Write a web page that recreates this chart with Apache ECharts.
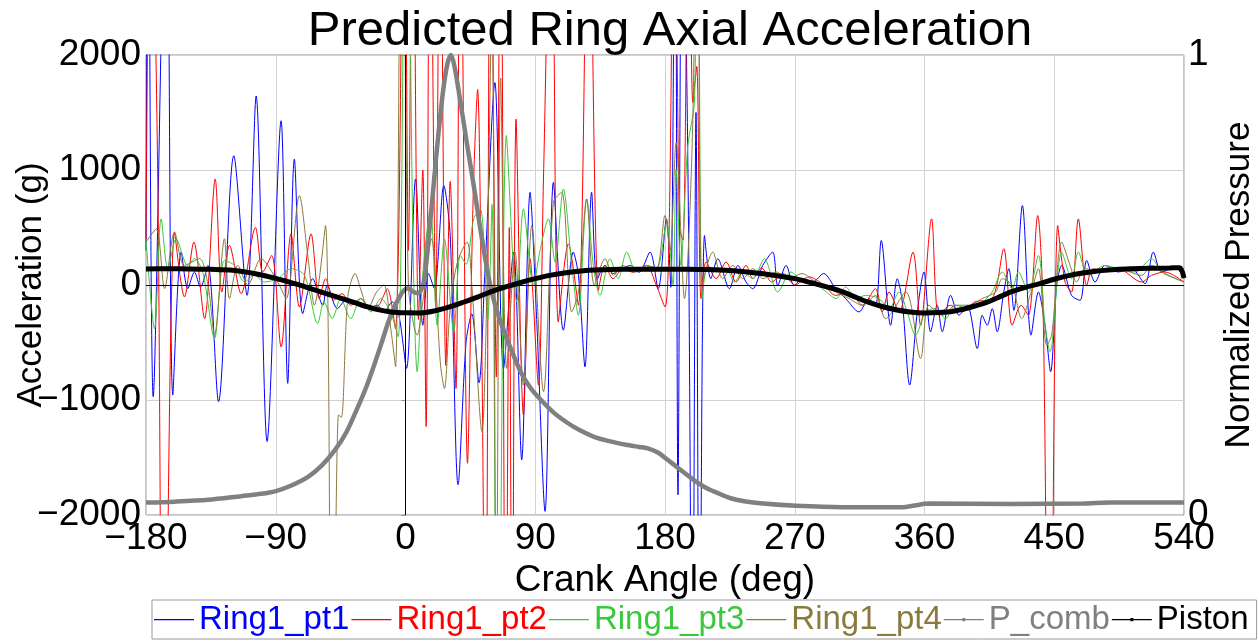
<!DOCTYPE html>
<html>
<head>
<meta charset="utf-8">
<script src="https://cdn.jsdelivr.net/npm/echarts@6/dist/echarts.min.js"></script>
<style>
html,body{margin:0;padding:0;background:#fff;}
#chart{width:1259px;height:641px;}
</style>
</head>
<body>
<div id="chart"></div>
<script>
// ---- data (crank angle deg, value) ----
const xTicks = [-180, -90, 0, 90, 180, 270, 360, 450, 540];
const yTicks = [-2000, -1000, 0, 1000, 2000];
const seriesNames = ['Ring1_pt1', 'Ring1_pt2', 'Ring1_pt3', 'Ring1_pt4', 'P_comb', 'Piston'];

const ring1pt1 = [[-180,300],[-178.5,4000],[-175,-971],[-165.8,4000],[-161.4,-957],[-155.6,286],[-151,-32],[-146.4,113],[-142.2,-20],[-137.1,170],[-129.7,-1014],[-119.1,1124],[-109.9,-90],[-103.6,1644],[-96,-1361],[-86.3,1428],[-81.7,-855],[-77.1,1095],[-71.3,-249],[-64.4,55],[-57.4,-176],[-54.3,-3],[-47.3,-205],[-40.4,-118],[-33.5,-176],[-26.6,-205],[-19.6,-176],[-15,-234],[-9.2,-147],[-4.6,-263],[0.7,-725],[7,922],[12,-350],[16,100],[20,-30],[26.6,864],[31,430],[36.5,-1737],[42,-500],[46,-250],[51,-850],[55,100],[62,1760],[68,-725],[75,286],[80.6,-1520],[86.4,806],[91,-300],[96.8,-1968],[102.6,893],[109.5,-393],[116.4,286],[120,80],[124.5,-711],[129.1,806],[133,50],[138.4,170],[144,100],[150,140],[156,170],[162,110],[169.6,286],[175.3,-32],[181,575],[184,-20],[187,4000],[189,-1824],[192,4000],[196,900],[199,-4000],[201.5,1500],[204,-4000],[207.4,430],[211.8,55],[216.6,228],[224.7,-32],[230.5,170],[236.2,26],[240.9,-32],[247.8,170],[254.7,286],[258.2,-3],[264,170],[269.7,-3],[275.5,55],[282.4,26],[290,100],[298.4,-32],[305.3,-118],[314.6,-234],[321.5,-118],[326.1,-176],[330,387],[336.5,-350],[341.1,55],[344.6,-147],[349.7,-870],[355,-234],[359.6,113],[364.2,-407],[368.8,-176],[372.3,-407],[378.1,-90],[383.9,-263],[389.6,-176],[396.6,-552],[400,-263],[403.5,-350],[407,-205],[410.4,-407],[415,-61],[418.5,142],[422,-220],[427.9,691],[433.9,-436],[439,-61],[443.6,-350],[447.5,-754],[451.7,0],[455.2,170],[462,-90],[467.9,-133],[472.5,214],[478.3,26],[485.2,170],[494.4,113],[503.6,142],[512.9,12],[518.7,286],[524.5,113],[533.7,156],[540,55]];

const ring1pt2 = [[-180,400],[-176.8,4000],[-171.8,893],[-167.8,-5000],[-160.2,460],[-153.3,-104],[-146.8,373],[-139.4,-292],[-132,922],[-127.4,-61],[-122.1,344],[-114,-75],[-104.1,500],[-99,113],[-92.8,257],[-86.3,-538],[-79.4,445],[-73.6,-191],[-65.5,445],[-59.8,-118],[-55.4,55],[-49.7,-133],[-44,-75],[-38,-176],[-31,-118],[-24.3,-205],[-18.5,-176],[-12.7,-32],[-7,-379],[-1,4000],[2,300],[5,4000],[9,-300],[12,1000],[14.3,-1230],[17,4000],[21,-200],[24,4000],[28,-700],[31,900],[35,-900],[38,4000],[43,-1550],[47,800],[50,1700],[53,-600],[55.5,-4000],[59,4000],[63,-800],[66,4000],[69.5,-4000],[72,500],[74,-4000],[76.7,1442],[81.8,-1130],[86.4,228],[92.2,-870],[95.7,922],[101.4,4000],[106,-321],[113,358],[119.9,-176],[127,4000],[133.8,-46],[138.4,170],[144,55],[151,142],[158,110],[167,170],[174,-3],[180,-191],[183,575],[186.5,4000],[190,500],[192.5,390],[196.5,4000],[199.3,1587],[202,1900],[205,-118],[208.5,200],[215.5,55],[222.4,200],[229.3,26],[236.2,170],[241,55],[247,150],[254,26],[262,100],[270,0],[280,70],[290,0],[298.4,-90],[307.6,-61],[317,-176],[326,-32],[330.6,-234],[335.4,-61],[342.3,-234],[352,286],[357.3,-350],[364.9,575],[370,-263],[378,-176],[386,-234],[395,-147],[407,-118],[415,315],[420.8,-350],[427,-176],[432,-263],[438.5,604],[442.4,-292],[446.8,-5000],[452.4,517],[457.5,26],[462,-61],[466.7,575],[472.5,-3],[477,142],[485.2,113],[494.4,142],[510.6,26],[517.5,84],[526.7,113],[540,26]];

const ring1pt3 = [[-180,400],[-174.1,-380],[-169.5,575],[-164.8,140],[-159.1,400],[-151,170],[-146.4,230],[-140.6,110],[-132.5,-465],[-125.6,214],[-118.6,170],[-111.7,26],[-104.8,85],[-97.9,26],[-88.6,55],[-79.4,142],[-70.1,85],[-60.9,-335],[-56.6,-147],[-50.8,-292],[-45,-118],[-38,-292],[-31,-118],[-24,-234],[-17,-118],[-10.5,-234],[-5,-450],[0.5,5000],[5,500],[8.1,-754],[12,100],[17.3,662],[22,-350],[27,400],[33.5,-407],[38,257],[42,180],[47.3,575],[52,660],[57,-300],[60,700],[64,-5000],[70,1300],[77.2,-147],[81.8,662],[88.7,0],[93.3,300],[99.1,575],[103.7,200],[109.5,835],[115.3,170],[119.9,-263],[125.7,748],[130.3,170],[134.9,-90],[141.8,228],[147.6,55],[153.4,286],[160.3,113],[167.2,170],[174.2,142],[181.1,546],[185.5,0],[187.7,1008],[191,170],[195.8,1210],[200.4,1587],[202.7,4000],[205.8,-118],[209.7,170],[215.5,113],[222.4,142],[228.2,26],[234,113],[240.9,55],[248.9,228],[258.2,-61],[267.4,113],[275.5,26],[285,0],[292,-61],[298.6,-118],[305.3,-17],[312.3,-118],[319.2,-90],[328.4,-118],[335.4,-205],[342.3,-61],[348,-234],[353.8,-436],[360.8,-234],[367.7,-205],[374.6,-292],[381.5,-176],[390.8,-205],[397.7,-176],[406.9,-61],[413.9,113],[420.8,-32],[425.1,113],[432,-61],[439,257],[443.6,-350],[447.1,-580],[455.2,286],[462,55],[466.7,286],[473.6,84],[485.2,170],[494.4,142],[505.9,113],[517.5,228],[524.5,113],[540,26]];

const ring1pt4 = [[-180,373],[-172.9,488],[-167.1,-31],[-160.2,460],[-153.3,170],[-142.9,228],[-137,0],[-132.5,-436],[-125.6,402],[-122.1,-118],[-116.3,170],[-109.4,0],[-100.2,228],[-88.6,26],[-82.8,-118],[-73.6,777],[-67.8,257],[-63.2,-176],[-55.5,517],[-51,-5000],[-46.5,-1130],[-44.5,-1150],[-40,-100],[-35,100],[-31,-40],[-26,-200],[-20,-60],[-15,0],[-10,-400],[-6.9,-711],[-2.5,5000],[2,0],[8.1,-436],[12.5,-100],[18,402],[24.3,-697],[27,-900],[31,-200],[36,200],[42.7,373],[46,0],[53.1,-1275],[56,-300],[60,2500],[63,-3000],[66,1800],[70.2,-725],[76,286],[81.8,-870],[87.6,517],[95.7,-928],[102.6,720],[108.4,806],[115.3,-234],[120,-61],[125.7,748],[131,0],[138.4,228],[144.2,84],[151,170],[158,113],[167,170],[174,142],[180,604],[183.5,300],[187.7,1240],[193.5,-118],[199.3,1442],[202.7,5000],[205.7,0],[213.1,286],[220,55],[227,170],[234,55],[241,142],[248,55],[257,113],[266,55],[275,100],[285,20],[298.4,-61],[307.6,-118],[317,-176],[326,-90],[333,-292],[347,-61],[357.3,-639],[363,-176],[372.3,-263],[381.5,-176],[390.8,-176],[400,-118],[409.3,-61],[414,55],[420.8,-3],[427.4,-292],[434,-61],[439,142],[444.8,-523],[448.2,-436],[455.2,373],[461,170],[465.5,26],[471.3,142],[483,113],[494.4,142],[510.6,84],[517.5,170],[524.5,113],[540,26]];

const pComb = [[-180,0.027],[-160,0.029],[-137,0.033],[-114,0.041],[-100,0.046],[-90,0.052],[-80,0.063],[-67.6,0.083],[-58,0.108],[-49,0.141],[-41,0.18],[-33,0.235],[-27,0.28],[-21.3,0.33],[-16,0.38],[-12.2,0.417],[-8.5,0.447],[-5.3,0.467],[-2,0.485],[1.7,0.493],[5,0.486],[8.6,0.482],[11,0.49],[13,0.51],[15.5,0.583],[19,0.7],[22.4,0.815],[26,0.92],[29,0.98],[31.5,1.0],[34,0.975],[38.6,0.888],[43,0.8],[47.8,0.707],[52,0.62],[57.1,0.526],[61,0.47],[66.3,0.417],[72,0.37],[80.2,0.309],[87,0.275],[94,0.25],[103,0.222],[112.5,0.2],[121,0.184],[130.8,0.17],[142,0.16],[154,0.152],[162,0.148],[168,0.145],[175,0.136],[181.8,0.12],[190,0.1],[200,0.076],[208,0.06],[216.4,0.048],[225,0.037],[235,0.03],[248,0.025],[271,0.02],[303,0.017],[345,0.017],[352,0.02],[363,0.025],[420,0.024],[470,0.025],[490,0.027],[540,0.027]];

const piston = [[-180,140],[-165,141],[-150,140],[-135,136],[-120,128],[-105,100],[-90,58],[-75,5],[-60,-55],[-50,-95],[-40,-133],[-30,-175],[-20,-212],[-10,-235],[0,-242],[10,-243],[20,-225],[30,-192],[40,-150],[50,-105],[60,-55],[70,-15],[80,22],[90,55],[100,84],[110,105],[120,120],[135,132],[150,137],[165,138],[180,138],[195,137],[210,134],[225,126],[240,108],[255,85],[270,55],[285,8],[300,-45],[310,-95],[320,-145],[330,-185],[340,-215],[350,-235],[360,-243],[370,-240],[380,-228],[390,-200],[400,-165],[410,-115],[420,-60],[430,-20],[440,12],[450,50],[460,82],[470,105],[480,122],[490,133],[500,140],[515,145],[530,148],[537,150],[540,60]];

const colors = ['#0000ff', '#ff0000', '#3cc83c', '#8a7a3e', '#808080', '#000000'];
const FONT = "'Liberation Sans', Arial, sans-serif";

const chart = echarts.init(document.getElementById('chart'), null, {renderer: 'canvas'});

function ringSeries(name, data, color) {
  return {
    name: name, type: 'line', data: data, yAxisIndex: 0,
    symbol: 'none', smooth: 0.3,
    lineStyle: {color: color, width: 1},
    itemStyle: {color: color},
    z: 2, animation: false
  };
}

// minus sign formatting for tick labels
function tickFmt(v) { return v < 0 ? '\u2212' + String(-v) : String(v); }

// legend icons: thin coloured line (rings); line with small dot (P_comb, Piston)
const ICON_LINE = 'path://M0,0L40,0L40,0.01Z M0,2L40,2L40,3.2L0,3.2Z M0,5L40,5L40,5.01Z';
const ICON_DOT = 'path://M0,0L40,0L40,0.01Z M0,2L40,2L40,3.2L0,3.2Z M18.5,1L21.5,1L21.5,4.2L18.5,4.2Z M0,5L40,5L40,5.01Z';

const legendData = seriesNames.map(function (n, i) {
  return {
    name: n, icon: i < 4 ? ICON_LINE : ICON_DOT,
    itemStyle: {color: colors[i], borderWidth: 0}
  };
});

const option = {
  animation: false,
  backgroundColor: '#ffffff',
  textStyle: {fontFamily: FONT},
  title: {
    text: 'Predicted Ring Axial Acceleration',
    left: 665, textAlign: 'center', top: 2,
    textStyle: {fontFamily: FONT, fontSize: 49, fontWeight: 'normal', color: '#000'}
  },
  grid: {left: 146, right: 75, top: 55, bottom: 126, show: true, borderColor: '#8c8c8c', borderWidth: 1, containLabel: false, outerBoundsMode: 'none'},
  legend: {
    data: legendData,
    left: 152, top: 600, width: 1160,
    padding: [3, 8, 3, 2],
    borderColor: '#9a9a9a', borderWidth: 1,
    itemGap: 2, itemWidth: 40, itemHeight: 5,
    symbolKeepAspect: false,
    textStyle: {fontFamily: FONT, fontSize: 33, rich: {}}
  },
  xAxis: {
    type: 'value', min: -180, max: 540, interval: 90,
    name: 'Crank Angle (deg)', nameLocation: 'middle', nameGap: 47, nameMoveOverlap: false,
    nameTextStyle: {fontFamily: FONT, fontSize: 37, color: '#000'},
    axisLine: {show: false},
    axisTick: {show: false},
    axisLabel: {fontFamily: FONT, fontSize: 37, color: '#000', margin: 5, formatter: tickFmt},
    splitLine: {show: true, lineStyle: {color: '#d2d2d2', width: 1}}
  },
  yAxis: [{
    type: 'value', min: -2000, max: 2000, interval: 1000,
    name: 'Acceleration (g)', nameLocation: 'middle', nameGap: 97, nameRotate: 90, nameMoveOverlap: false,
    nameTextStyle: {fontFamily: FONT, fontSize: 35, color: '#000'},
    axisLine: {show: false},
    axisTick: {show: true, length: 4, lineStyle: {color: '#8c8c8c'}},
    axisLabel: {fontFamily: FONT, fontSize: 37, color: '#000', margin: 5, formatter: tickFmt},
    splitLine: {show: true, lineStyle: {color: '#d2d2d2', width: 1}}
  }, {
    type: 'value', min: 0, max: 1, interval: 1, position: 'right',
    name: 'Normalized Pressure', nameLocation: 'middle', nameGap: 38, nameRotate: 90, nameMoveOverlap: false,
    nameTextStyle: {fontFamily: FONT, fontSize: 35, color: '#000'},
    axisLine: {show: false}, axisTick: {show: false},
    axisLabel: {fontFamily: FONT, fontSize: 37, color: '#000', margin: 4, formatter: tickFmt},
    splitLine: {show: false}
  }],
  series: [
    {
      name: 'zero', type: 'line', data: [], z: 1, silent: true,
      markLine: {
        silent: true, symbol: 'none', animation: false,
        label: {show: false},
        lineStyle: {color: '#000', width: 1, type: 'solid'},
        data: [{yAxis: 0}, {xAxis: 0}]
      }
    },
    ringSeries(seriesNames[0], ring1pt1, colors[0]),
    ringSeries(seriesNames[1], ring1pt2, colors[1]),
    ringSeries(seriesNames[2], ring1pt3, colors[2]),
    ringSeries(seriesNames[3], ring1pt4, colors[3]),
    {
      name: seriesNames[4], type: 'line', data: pComb, yAxisIndex: 1,
      symbol: 'none', smooth: 0.3,
      lineStyle: {color: colors[4], width: 4.5},
      itemStyle: {color: colors[4]}, z: 4, animation: false
    },
    {
      name: seriesNames[5], type: 'line', data: piston, yAxisIndex: 0,
      symbol: 'none', smooth: 0.3,
      lineStyle: {color: colors[5], width: 5},
      itemStyle: {color: colors[5]}, z: 5, animation: false
    }
  ]
};

// legend text colours match series
option.legend.formatter = function (n) { return '{c' + seriesNames.indexOf(n) + '|' + n + '}'; };
seriesNames.forEach(function (n, i) {
  option.legend.textStyle.rich['c' + i] = {color: colors[i], fontSize: 33, fontFamily: FONT};
});

chart.setOption(option);
</script>
</body>
</html>
